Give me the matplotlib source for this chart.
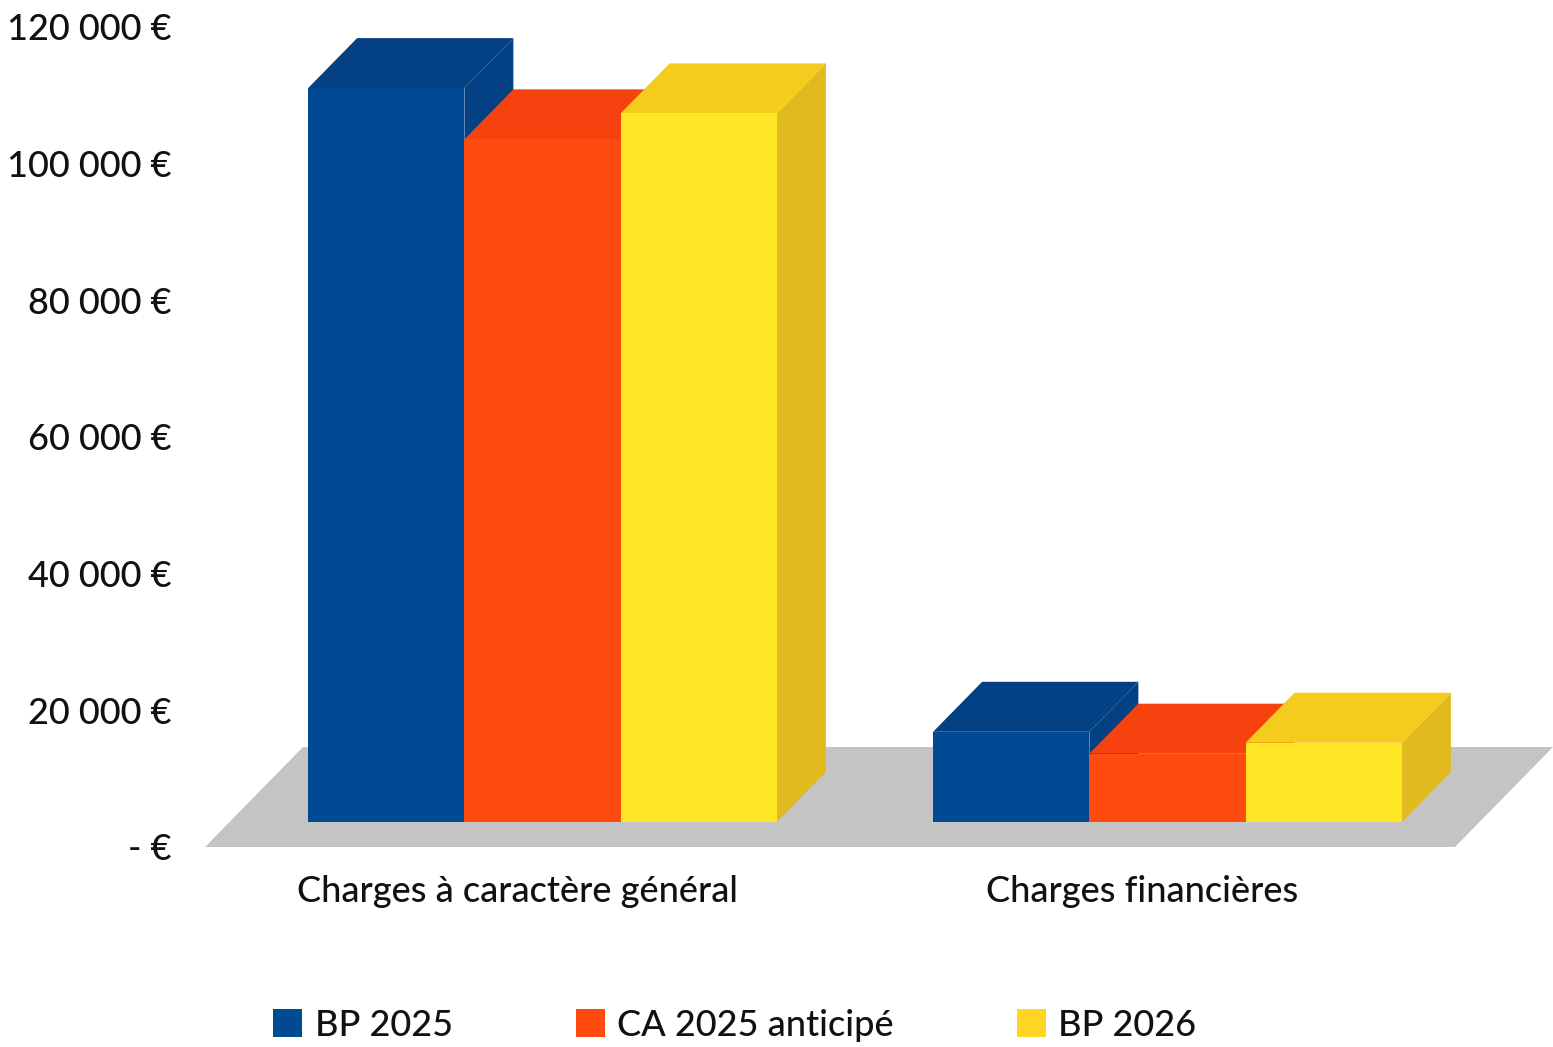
import matplotlib
matplotlib.use("Agg")
import matplotlib.pyplot as plt
from matplotlib.patches import Patch
from matplotlib.transforms import Affine2D
from matplotlib.ticker import FixedLocator, FuncFormatter

categories = ["Charges à caractère général", "Charges financières"]
series_names = ["BP 2025", "CA 2025 anticipé", "BP 2026"]
bp_2025 = [107400, 13200]
ca_2025 = [99900, 10000]
bp_2026 = [103700, 11600]
series_values = [bp_2025, ca_2025, bp_2026]
yticks = [0, 20000, 40000, 60000, 80000, 100000, 120000]

front = ["#004A93", "#FF4B10", "#FFE624"]
top = ["#034184", "#F5420E", "#F5CB1E"]
side = ["#034184", "#F5420E", "#E0BA1E"]
legend_colors = ["#004A93", "#FF4B10", "#FFD624"]
font = ["Lato", "DejaVu Sans"]

W, H = 1553, 1047
fig = plt.figure(figsize=(W / 100, H / 100), dpi=100, facecolor="white")
L, R, T, B = 205, 1455, 27, 847
ax = fig.add_axes([L / W, 1 - B / H, (R - L) / W, (B - T) / H])
ax.set_xlim(-0.5, 1.5)
ax.set_ylim(0, 120000)
ax.patch.set_alpha(0)
for s in ax.spines.values():
    s.set_visible(False)

front_shift = ax.transData + Affine2D().translate(25, 25)
back_shift = ax.transData + Affine2D().translate(74, 75)
floor_shift = ax.transData + Affine2D().translate(98, 100)

# floor
x0, x1 = ax.get_xlim()
ax.fill([x0, x1], [0, 0], color="none")
from matplotlib.patches import Polygon
base = ax.transData
pts_front = base.transform([(x0, 0), (x1, 0)])
pts_back = floor_shift.transform([(x1, 0), (x0, 0)])
inv = base.inverted()
floor = Polygon(inv.transform(list(pts_front) + list(pts_back)), closed=True,
                facecolor="#C4C4C4", edgecolor="none", clip_on=False, zorder=1)
ax.add_patch(floor)

bw = 0.25
for ci in range(len(categories)):
    # drawn back to front is not needed left-to-right: later bars overlap earlier sides
    for si, vals in enumerate(series_values):
        v = vals[ci]
        xl = ci + (si - 1.5) * bw
        xr = xl + bw
        a = front_shift.transform
        b = back_shift.transform
        p = lambda q: tuple(inv.transform(q))
        fbl, fbr = a((xl, 0)), a((xr, 0))
        ftl, ftr = a((xl, v)), a((xr, v))
        btl, btr, bbr = b((xl, v)), b((xr, v)), b((xr, 0))
        z = 2 + si
        ax.add_patch(Polygon([p(fbr), p(bbr), p(btr), p(ftr)], closed=True,
                             facecolor=side[si], edgecolor="none", clip_on=False, zorder=z))
        ax.add_patch(Polygon([p(ftl), p(btl), p(btr), p(ftr)], closed=True,
                             facecolor=top[si], edgecolor="none", clip_on=False, zorder=z))
        ax.bar(ci + (si - 1) * bw, v, bw, color=front[si], transform=front_shift,
               clip_on=False, zorder=z + 0.5, linewidth=0)

ax.xaxis.set_major_locator(FixedLocator(range(len(categories))))
ax.set_xticklabels(categories, fontsize=26, family=font, fontweight="medium", color="#111111")
ax.yaxis.set_major_locator(FixedLocator(yticks))
ax.yaxis.set_major_formatter(FuncFormatter(
    lambda v, _: "- €" if v == 0 else f"{int(v):,} €".replace(",", " ")))
for t in ax.get_yticklabels():
    t.set_fontsize(26)
    t.set_family(font)
    t.set_fontweight("medium")
    t.set_color("#111111")
ax.tick_params(axis="both", length=0)
ax.tick_params(axis="y", pad=24)
ax.tick_params(axis="x", pad=20)

handles = [Patch(facecolor=c, edgecolor="none", label=n) for c, n in zip(legend_colors, series_names)]
leg = fig.legend(handles=handles, ncol=3, frameon=False, loc="center",
                 bbox_to_anchor=(735 / W, 1 - 1025 / H),
                 prop={"family": font, "size": 26, "weight": "medium"},
                 handlelength=0.8, handleheight=0.8, handletextpad=0.35, columnspacing=3.4,
                 labelcolor="#111111")

fig.savefig("out.png", dpi=100)
